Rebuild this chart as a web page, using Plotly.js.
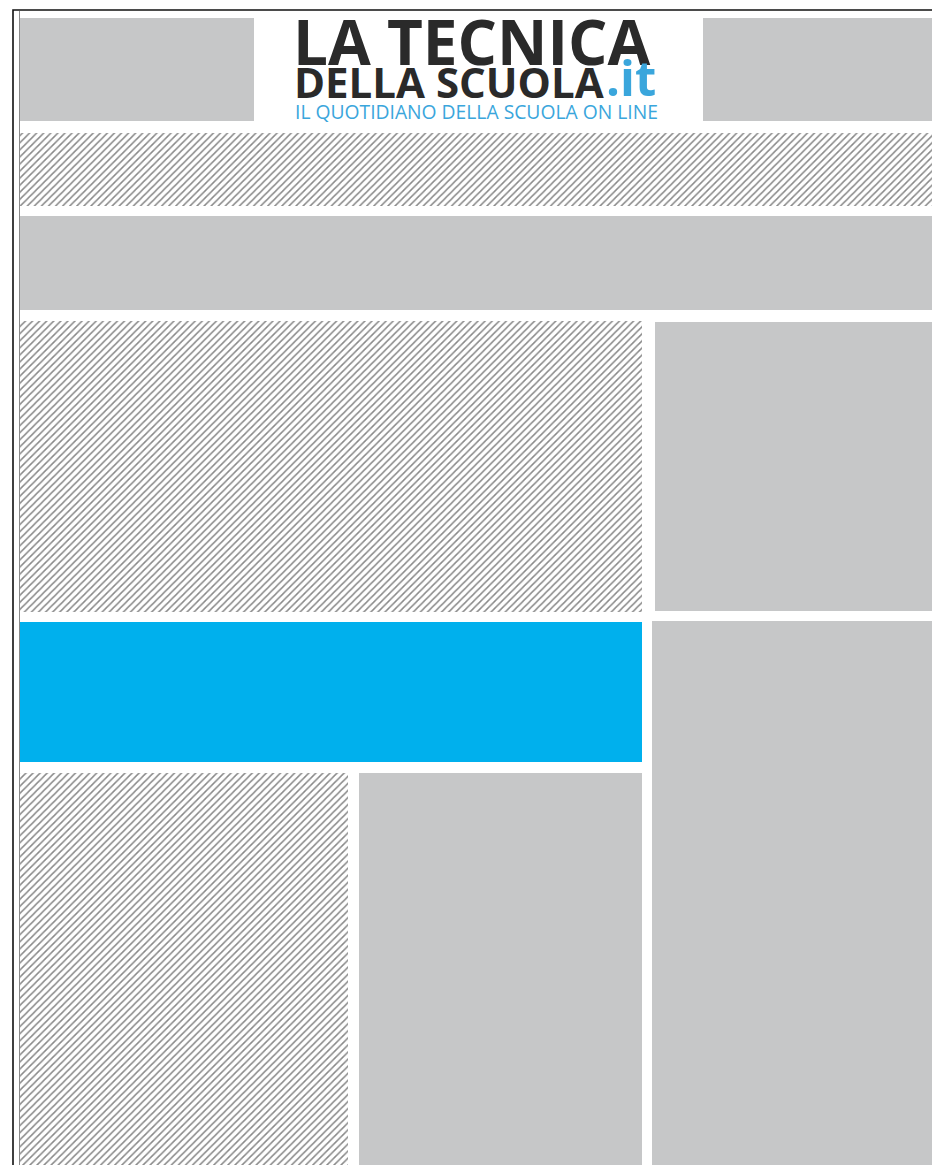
<!DOCTYPE html>
<html>
<head>
<meta charset="utf-8">
<script src="https://cdn.plot.ly/plotly-3.0.1.min.js"></script>
<style>
  html, body { margin: 0; padding: 0; background: #ffffff; }
  #chart { width: 932px; height: 1165px; }
</style>
</head>
<body>
<div id="chart"></div>
<script>
// Page wireframe blocks (page pixel units): left, right, top, bottom, kind
const blockNames  = ["banner-left", "banner-right", "strip-hatch", "strip-gray", "main-hatch", "side-gray", "main-blue", "side-tall", "col-hatch", "col-gray"];
const blockLeft   = [20, 703, 20, 20, 20, 655, 20, 652, 20, 359];
const blockRight  = [254, 932, 932, 932, 642, 932, 642, 932, 348, 642];
const blockTop    = [18, 18, 133, 216, 321, 322, 622, 621, 773, 773];
const blockBottom = [121, 121, 206, 310, 612, 611, 762, 1165, 1165, 1165];
const blockKind   = ["gray", "gray", "hatch", "gray", "hatch", "gray", "blue", "gray", "hatch", "gray"];

// Page frame lines
const frameX = [13, 13, 932];
const frameY = [1165, 10, 10];
const innerX = [19.5, 19.5];
const innerY = [11, 1165];

// Logo texts
const logoLine1 = "LA TECNICA";
const logoLine2 = "DELLA SCUOLA";
const logoDomain = ".it";
const logoTagline = "IL QUOTIDIANO DELLA SCUOLA ON LINE";

const styles = {
  gray:  { color: "#c6c7c8", pattern: null },
  blue:  { color: "#00b0ed", pattern: null },
  hatch: { color: "#ffffff", pattern: { shape: "/", size: 5, solidity: 0.3, fgcolor: "#111111", bgcolor: "#ffffff", fillmode: "overlay" } }
};

const traces = [];
["gray", "blue", "hatch"].forEach(kind => {
  const idx = blockKind.map((k, i) => k === kind ? i : -1).filter(i => i >= 0);
  const marker = { color: styles[kind].color, line: { width: 0 } };
  if (styles[kind].pattern) marker.pattern = styles[kind].pattern;
  traces.push({
    type: "bar",
    name: kind,
    x: idx.map(i => (blockLeft[i] + blockRight[i]) / 2),
    width: idx.map(i => blockRight[i] - blockLeft[i]),
    base: idx.map(i => blockTop[i]),
    y: idx.map(i => blockBottom[i] - blockTop[i]),
    text: idx.map(i => blockNames[i]),
    textposition: "none",
    hoverinfo: "text",
    marker: marker,
    showlegend: false
  });
});

traces.push({
  type: "scatter", mode: "lines", x: frameX, y: frameY,
  line: { color: "#111111", width: 1.6 }, hoverinfo: "skip", showlegend: false
});
traces.push({
  type: "scatter", mode: "lines", x: innerX, y: innerY,
  line: { color: "#8a8a8a", width: 1 }, hoverinfo: "skip", showlegend: false
});

const layout = {
  width: 932, height: 1165,
  margin: { l: 0, r: 0, t: 0, b: 0, pad: 0 },
  paper_bgcolor: "#ffffff", plot_bgcolor: "#ffffff",
  barmode: "overlay",
  bargap: 0,
  xaxis: { range: [0, 932], visible: false, fixedrange: true },
  yaxis: { range: [1165, 0], visible: false, fixedrange: true },
  annotations: [
    { x: 291, y: 41, xref: "x", yref: "y", xanchor: "left", yanchor: "middle", showarrow: false,
      text: "<b>" + logoLine1 + "</b>", font: { family: "Open Sans", size: 62, color: "#2a2a2a" } },
    { x: 292, y: 81, xref: "x", yref: "y", xanchor: "left", yanchor: "middle", showarrow: false,
      text: "<b>" + logoLine2 + "</b>", font: { family: "Open Sans", size: 42, color: "#2a2a2a" } },
    { x: 604, y: 77, xref: "x", yref: "y", xanchor: "left", yanchor: "middle", showarrow: false,
      text: "<b>" + logoDomain + "</b>", font: { family: "Open Sans", size: 49, color: "#3aa6dc" } },
    { x: 293, y: 111, xref: "x", yref: "y", xanchor: "left", yanchor: "middle", showarrow: false,
      text: logoTagline, font: { family: "Open Sans", size: 19.3, color: "#3aa6dc" } }
  ]
};

Plotly.newPlot("chart", traces, layout, { displayModeBar: false, staticPlot: true });
</script>
</body>
</html>
